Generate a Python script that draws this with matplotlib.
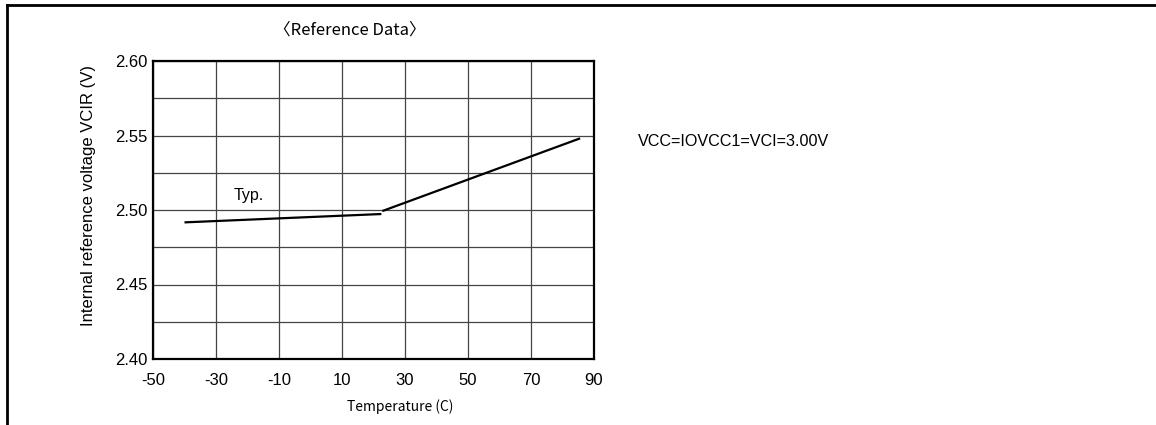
import numpy as np
import matplotlib.pyplot as plt
from matplotlib.lines import Line2D

# data (two straight segments)
temp_low = [-40, 22.5]
vcir_low = [2.4917, 2.4973]
temp_high = [22.8, 85.6]
vcir_high = [2.4993, 2.5481]

x_ticks = [-50, -30, -10, 10, 30, 50, 70, 90]
y_ticks = [2.40, 2.45, 2.50, 2.55, 2.60]
y_grid = [2.425, 2.475, 2.525, 2.575]

plt.rcParams['font.family'] = ['Liberation Sans', 'DejaVu Sans']
plt.rcParams['axes.unicode_minus'] = False
jp = ['Noto Sans CJK JP', 'DejaVu Sans']

fig = plt.figure(figsize=(11.56, 4.25), dpi=100)
ax = fig.add_axes([153 / 1156, 1 - 359 / 425, 441 / 1156, 298 / 425])

ax.plot(temp_low, vcir_low, color='black', linewidth=1.6, solid_capstyle='butt')
ax.plot(temp_high, vcir_high, color='black', linewidth=1.6, solid_capstyle='butt')

ax.set_xlim(-50, 90)
ax.set_ylim(2.40, 2.60)
ax.set_xticks(x_ticks)
ax.set_yticks(y_ticks)
ax.set_yticks(y_grid, minor=True)
ax.set_yticklabels([f"{v:.2f}" for v in y_ticks])
ax.tick_params(axis='both', which='both', length=0, labelsize=12)
ax.tick_params(axis='y', pad=4)
ax.tick_params(axis='x', pad=10)
ax.grid(True, which='both', color='#444444', linewidth=0.9)
for s in ax.spines.values():
    s.set_linewidth(1.6)

ax.set_ylabel("Internal reference voltage VCIR (V)", fontsize=12)
ax.yaxis.set_label_coords(-57 / 441, (359 - 195) / 298)
ax.set_xlabel("Temperature (C)", fontsize=10, family=jp)
ax.xaxis.set_label_coords((400 - 153) / 441, -(399 - 359) / 298)

fig.text(350 / 1156, 1 - 30 / 425, "〈Reference Data〉", family=jp, fontsize=12,
         ha='center', va='center')
ax.text(-19.5, 2.510, "Typ.", fontsize=11.5, ha='center', va='center')
fig.text(638 / 1156, 1 - 141 / 425, "VCC=IOVCC1=VCI=3.00V", fontsize=11.6,
         ha='left', va='center')

# outer frame: top and left edges only
fig.add_artist(Line2D([7 / 1156, 1], [1 - 5 / 425, 1 - 5 / 425], color='black', linewidth=2,
                      transform=fig.transFigure))
fig.add_artist(Line2D([7 / 1156, 7 / 1156], [0, 1 - 5 / 425], color='black', linewidth=2,
                      transform=fig.transFigure))

fig.savefig("out.png", dpi=100)
